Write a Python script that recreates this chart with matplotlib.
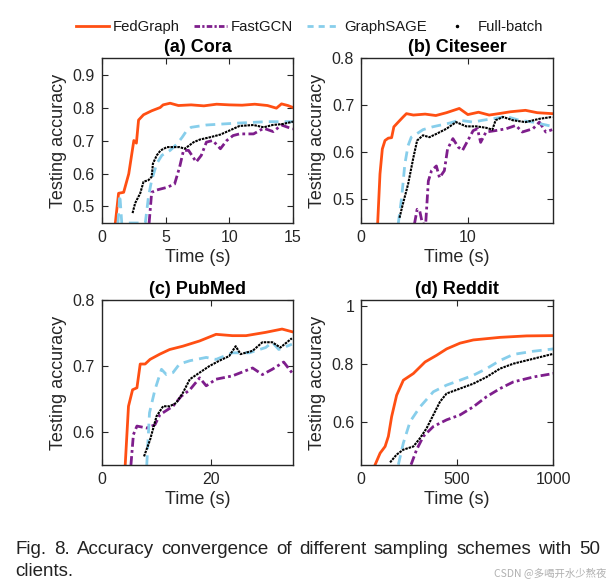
import matplotlib.pyplot as plt
from matplotlib.lines import Line2D

plt.rcParams['font.family'] = ['Liberation Sans', 'DejaVu Sans']

# ---- data (time, accuracy) ----
# (a) Cora
cora_fed_t = [1.04, 1.3, 1.7, 2.1, 2.5, 2.7, 2.87, 3.26, 3.9, 4.57, 4.8, 5.35, 6.0, 7.0, 8.0, 9.0, 10.0, 11.0, 12.0, 13.0, 13.7, 14.1, 14.6, 15.0]
cora_fed_a = [0.448, 0.540, 0.543, 0.599, 0.700, 0.692, 0.762, 0.778, 0.790, 0.800, 0.808, 0.813, 0.806, 0.808, 0.805, 0.810, 0.808, 0.807, 0.810, 0.806, 0.798, 0.811, 0.806, 0.800]
cora_fast_t = [3.7, 3.9, 4.3, 5.1, 5.7, 6.1, 6.4, 6.8, 7.4, 7.8, 8.2, 8.7, 9.3, 9.8, 10.3, 10.8, 11.9, 12.7, 13.45, 14.1, 14.6, 15.0]
cora_fast_a = [0.45, 0.543, 0.55, 0.558, 0.568, 0.62, 0.67, 0.67, 0.635, 0.655, 0.695, 0.70, 0.675, 0.70, 0.715, 0.72, 0.72, 0.737, 0.727, 0.747, 0.74, 0.735]
cora_sage_t = [1.25, 1.4, 1.55, 3.4, 3.65, 3.9, 4.3, 4.7, 5.35, 5.9, 6.3, 6.65, 7.0, 8.2, 10.3, 12.9, 15.0]
cora_sage_a = [0.45, 0.535, 0.45, 0.45, 0.53, 0.58, 0.63, 0.655, 0.67, 0.69, 0.71, 0.73, 0.74, 0.747, 0.752, 0.757, 0.757]
cora_full_t = [2.4, 2.6, 3.0, 3.26, 3.65, 3.9, 4.0, 4.3, 4.6, 5.1, 5.6, 6.1, 6.5, 7.2, 7.7, 8.5, 9.3, 10.0, 10.8, 11.9, 12.7, 13.4, 14.2, 15.0]
cora_full_a = [0.48, 0.51, 0.54, 0.575, 0.58, 0.59, 0.63, 0.655, 0.67, 0.68, 0.68, 0.68, 0.675, 0.695, 0.703, 0.71, 0.718, 0.73, 0.744, 0.747, 0.74, 0.747, 0.75, 0.757]

# (b) Citeseer
cite_fed_t = [1.55, 1.77, 1.99, 2.24, 2.55, 2.86, 3.07, 3.48, 3.94, 4.25, 4.9, 6.0, 7.0, 8.0, 9.2, 10.0, 11.0, 12.0, 12.9, 14.0, 15.4, 16.5, 17.9]
cite_fed_a = [0.448, 0.554, 0.607, 0.625, 0.630, 0.631, 0.654, 0.664, 0.675, 0.682, 0.679, 0.681, 0.678, 0.684, 0.693, 0.680, 0.685, 0.679, 0.682, 0.686, 0.689, 0.684, 0.682]
cite_fast_t = [5.0, 5.25, 5.5, 5.75, 6.05, 6.3, 6.6, 7.05, 7.35, 7.8, 8.1, 8.6, 9.1, 9.5, 10.0, 10.5, 10.9, 11.2, 11.7, 12.6, 13.6, 14.5, 15.1, 16.1, 16.7, 17.3, 17.9]
cite_fast_a = [0.448, 0.479, 0.475, 0.448, 0.448, 0.539, 0.561, 0.571, 0.546, 0.561, 0.607, 0.629, 0.611, 0.604, 0.625, 0.646, 0.650, 0.621, 0.643, 0.646, 0.650, 0.657, 0.643, 0.650, 0.664, 0.643, 0.648]
cite_sage_t = [3.48, 3.8, 4.1, 4.4, 4.7, 5.2, 5.8, 6.7, 8.3, 9.2, 10.5, 11.4, 12.3, 13.6, 14.8, 16.1, 17.9]
cite_sage_a = [0.448, 0.504, 0.575, 0.614, 0.632, 0.639, 0.648, 0.654, 0.662, 0.668, 0.664, 0.668, 0.671, 0.676, 0.668, 0.664, 0.655]
cite_full_t = [3.6, 3.9, 4.4, 4.9, 5.25, 5.8, 6.4, 7.05, 8.0, 8.9, 9.85, 10.8, 11.7, 12.3, 12.6, 13.3, 14.2, 15.4, 16.7, 17.9]
cite_full_a = [0.461, 0.489, 0.532, 0.589, 0.625, 0.636, 0.632, 0.639, 0.650, 0.664, 0.655, 0.655, 0.652, 0.648, 0.668, 0.675, 0.668, 0.664, 0.671, 0.675]

# (c) PubMed
pub_fed_t = [4.25, 4.85, 5.6, 6.4, 7.0, 7.9, 8.8, 10.6, 12.4, 14.8, 17.9, 20.9, 23.9, 26.4, 30.0, 33.0, 34.8]
pub_fed_a = [0.55, 0.639, 0.664, 0.667, 0.703, 0.703, 0.710, 0.718, 0.725, 0.730, 0.738, 0.748, 0.746, 0.746, 0.751, 0.756, 0.752]
pub_fast_t = [5.3, 5.75, 6.4, 8.2, 9.7, 10.6, 11.5, 13.0, 14.5, 16.1, 17.9, 19.1, 20.9, 23.9, 27.6, 29.4, 31.2, 33.3, 34.8]
pub_fast_a = [0.55, 0.596, 0.609, 0.606, 0.611, 0.626, 0.631, 0.639, 0.654, 0.664, 0.682, 0.670, 0.680, 0.685, 0.697, 0.687, 0.695, 0.706, 0.690]
pub_sage_t = [8.2, 8.7, 9.7, 10.9, 11.8, 13.0, 14.2, 16.1, 19.1, 20.9, 23.9, 27.0, 30.0, 31.2, 32.4, 34.8]
pub_sage_a = [0.55, 0.629, 0.664, 0.695, 0.687, 0.690, 0.703, 0.708, 0.713, 0.710, 0.720, 0.720, 0.728, 0.736, 0.725, 0.733]
pub_full_t = [7.7, 8.8, 10.0, 11.2, 12.4, 13.6, 14.8, 16.1, 17.9, 19.7, 21.5, 23.3, 24.5, 25.4, 27.6, 29.4, 31.2, 32.7, 34.8]
pub_full_a = [0.563, 0.588, 0.624, 0.639, 0.639, 0.644, 0.659, 0.680, 0.690, 0.700, 0.708, 0.715, 0.730, 0.718, 0.723, 0.736, 0.736, 0.728, 0.742]

# (d) Reddit
red_fed_t = [73, 99, 125, 142, 159, 185, 220, 272, 333, 393, 445, 515, 584, 723, 861, 1000]
red_fed_a = [0.451, 0.491, 0.514, 0.549, 0.617, 0.691, 0.743, 0.766, 0.806, 0.829, 0.851, 0.871, 0.882, 0.891, 0.896, 0.897]
red_fast_t = [260, 289, 324, 376, 445, 515, 584, 653, 723, 792, 896, 1000]
red_fast_a = [0.451, 0.503, 0.549, 0.583, 0.606, 0.623, 0.651, 0.686, 0.714, 0.737, 0.754, 0.766]
red_sage_t = [194, 220, 255, 307, 376, 445, 515, 584, 653, 723, 792, 896, 1000]
red_sage_a = [0.451, 0.526, 0.600, 0.651, 0.703, 0.726, 0.743, 0.760, 0.783, 0.811, 0.832, 0.843, 0.851]
red_full_t = [151, 185, 220, 272, 307, 341, 376, 411, 445, 515, 584, 653, 723, 792, 896, 1000]
red_full_a = [0.459, 0.486, 0.503, 0.514, 0.543, 0.577, 0.623, 0.669, 0.697, 0.714, 0.731, 0.754, 0.783, 0.800, 0.817, 0.834]

methods = ['FedGraph', 'FastGCN', 'GraphSAGE', 'Full-batch']
colors = ['#FF4F13', '#7E1E8C', '#87CEEB', '#000000']
styles = ['-', (0, (3.2, 1.2, 1.0, 1.2)), (0, (3.5, 2.2)), (0, (1.2, 0.45))]
widths = [2.0, 2.0, 2.0, 1.5]

panels = [
    ('(a) Cora', [(cora_fed_t, cora_fed_a), (cora_fast_t, cora_fast_a), (cora_sage_t, cora_sage_a), (cora_full_t, cora_full_a)],
     (0, 15), (0.45, 0.95), [0, 5, 10, 15], [0.5, 0.6, 0.7, 0.8, 0.9]),
    ('(b) Citeseer', [(cite_fed_t, cite_fed_a), (cite_fast_t, cite_fast_a), (cite_sage_t, cite_sage_a), (cite_full_t, cite_full_a)],
     (0, 18), (0.45, 0.8), [0, 10], [0.5, 0.6, 0.7, 0.8]),
    ('(c) PubMed', [(pub_fed_t, pub_fed_a), (pub_fast_t, pub_fast_a), (pub_sage_t, pub_sage_a), (pub_full_t, pub_full_a)],
     (0, 35), (0.55, 0.8), [0, 20], [0.6, 0.7, 0.8]),
    ('(d) Reddit', [(red_fed_t, red_fed_a), (red_fast_t, red_fast_a), (red_sage_t, red_sage_a), (red_full_t, red_full_a)],
     (0, 1000), (0.45, 1.02), [0, 500, 1000], [0.6, 0.8, 1.0]),
]

fig = plt.figure(figsize=(6.12, 5.83), dpi=100)
fig.patch.set_facecolor('white')

rects = [[0.1667, 0.6175, 0.312, 0.283], [0.590, 0.6175, 0.314, 0.283],
         [0.1667, 0.2024, 0.312, 0.283], [0.590, 0.2024, 0.314, 0.283]]
tick_col = '#262626'

for k, (title, series, xl, yl, xt, yt) in enumerate(panels):
    ax = fig.add_axes(rects[k])
    for i, (t, a) in enumerate(series):
        ax.plot(t, a, color=colors[i], linestyle=styles[i], linewidth=widths[i])
    ax.set_xlim(*xl)
    ax.set_ylim(*yl)
    ax.set_xticks(xt)
    ax.set_yticks(yt)
    if k == 3:
        ax.set_yticklabels(['0.6', '0.8', '1'])
    ax.tick_params(direction='in', top=True, right=True, length=4, width=0.8,
                   labelsize=11.5, colors=tick_col, pad=5)
    for s in ax.spines.values():
        s.set_color(tick_col)
        s.set_linewidth(1.0)
    ax.set_title(title, fontsize=13, fontweight='bold', pad=4)
    ax.set_xlabel('Time (s)', fontsize=13, color=tick_col, labelpad=3)
    ax.set_ylabel('Testing accuracy', fontsize=13, color=tick_col, labelpad=4)

# legend: full-batch shown as a single dot, as in the paper
handles = [Line2D([], [], color=colors[0], linestyle=styles[0], linewidth=2.0),
           Line2D([], [], color=colors[1], linestyle=(0, (2.0, 0.8, 0.8, 0.8)), linewidth=2.0),
           Line2D([], [], color=colors[2], linestyle=(0, (2.2, 1.8)), linewidth=2.0),
           Line2D([], [], color='k', marker='.', markersize=3, linestyle='none')]
fig.legend(handles=handles, labels=methods, loc='center', bbox_to_anchor=(0.506, 0.953),
           ncol=4, frameon=False, fontsize=10.7, handlelength=2.2, handletextpad=0.27,
           columnspacing=0.95, labelcolor='#1a1a1a')

# justified caption
cap_words = 'Fig. 8. Accuracy convergence of different sampling schemes with 50'.split()
renderer = fig.canvas.get_renderer()
x0, x1 = 15.5 / 612, 600 / 612
y_line1 = 1 - 549 / 583
objs = [fig.text(0, y_line1, w, fontsize=13.5, color='#222222', ha='left', va='center') for w in cap_words]
w_px = [o.get_window_extent(renderer).width for o in objs]
gap = ((x1 - x0) * 612 - sum(w_px)) / (len(objs) - 1)
xpos = x0 * 612
for o, w in zip(objs, w_px):
    o.set_x(xpos / 612)
    xpos += w + gap
fig.text(x0, 1 - 572 / 583, 'clients.', fontsize=13.5, color='#222222', ha='left', va='center')
fig.text(0.99, 0.008, 'CSDN @多喝开水少熬夜', fontsize=7.5, color='#b0b0b0', ha='right', va='bottom',
         family=['Noto Sans CJK SC', 'DejaVu Sans'])

fig.savefig('out.png', dpi=100)
